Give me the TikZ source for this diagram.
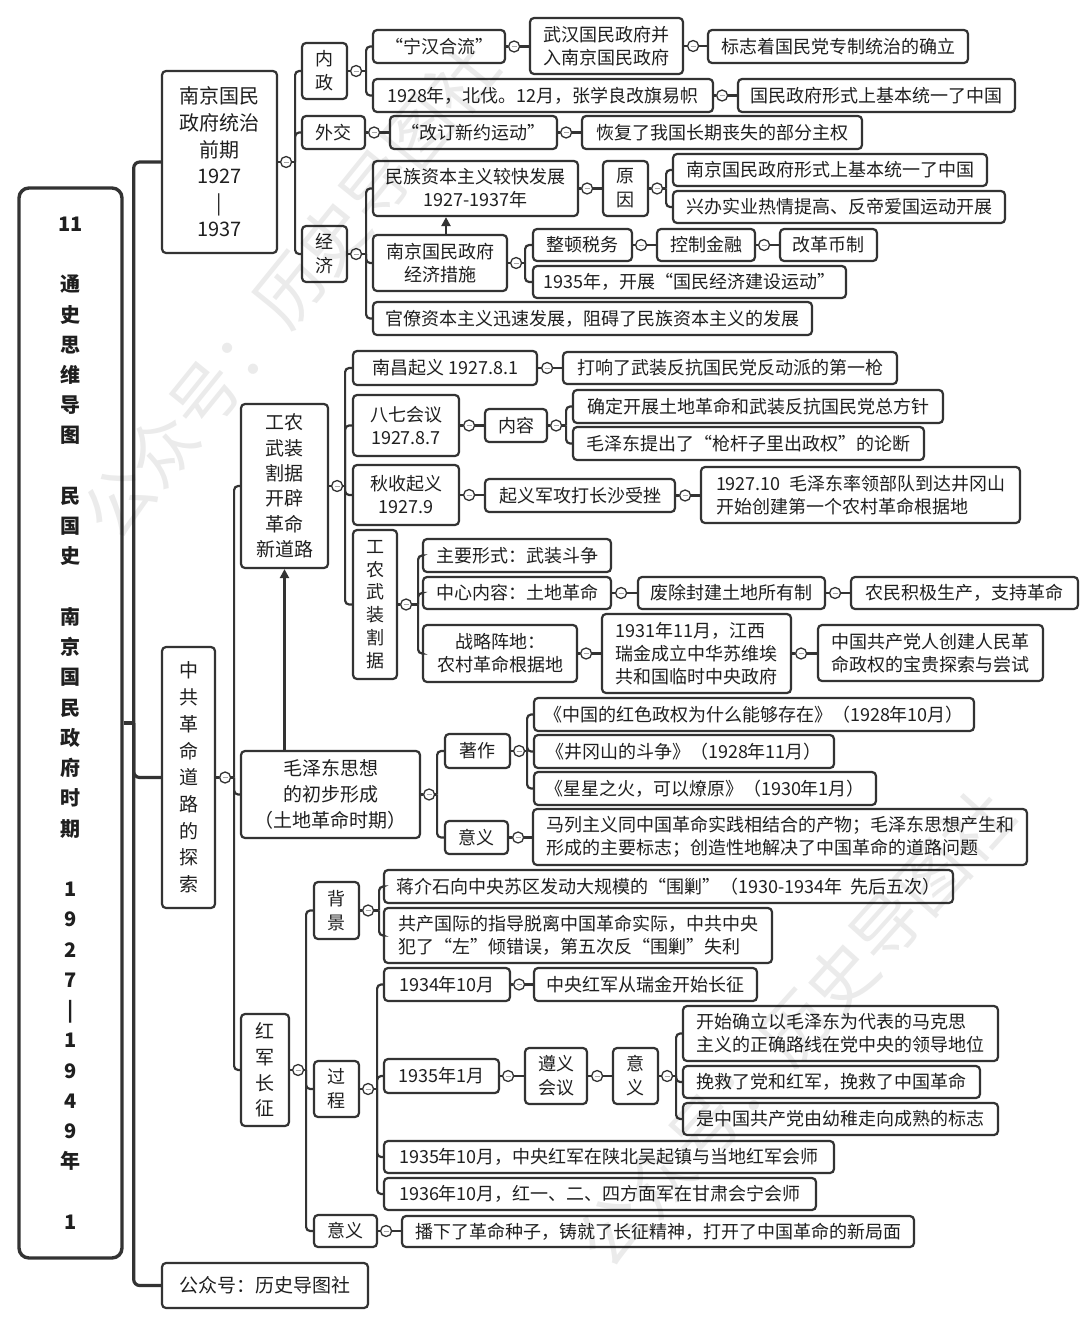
\documentclass[tikz,border=0pt]{standalone}
\usepackage{fontspec}
\setmainfont{Noto Sans CJK SC}
\usetikzlibrary{arrows.meta}
\definecolor{ink}{HTML}{333333}
\newcommand\fs[2]{\fontsize{#1}{#2}\selectfont}
\tikzset{
 box/.style={draw=ink, line width=2.2pt, rounded corners=4pt, fill=white, inner xsep=2pt, inner ysep=0pt, align=center, font=\fs{18}{23}, text=black!88},
 conn/.style={draw=ink, line width=2.2pt},
 rc/.style={conn, rounded corners=4pt},
 spine/.style={draw=ink, line width=3.2pt},
 dot/.style={circle, draw=ink, fill=white, line width=1.3pt, minimum size=11pt, inner sep=0pt,
   path picture={\draw[gray!70, line width=1pt] ([xshift=-2.6pt]path picture bounding box.center) -- ([xshift=2.6pt]path picture bounding box.center);}},
 arr/.style={conn, -{Triangle[length=9pt,width=9pt]}},
 wmark/.style={font=\fs{68}{70}, text=black, text opacity=0.08, inner sep=0pt},
}
% box: name, x1, y1, x2, y2, text
\newcommand\bx[7][]{\node[box,#1,minimum width={#5-#3},minimum height={#6-#4}] (#2) at ({(#3+#5)/2},{(#4+#6)/2}) {#7};}
% hub with trunk: parent, dot name, gap, trunk offset
\newcommand\hub[4]{\node[dot] (#2) at ([xshift=#3pt]#1.east) {};
  \coordinate (#2t) at ([xshift=#4pt]#2.center);
  \draw[conn] (#1.east) -- (#2.west); \draw[conn] (#2.east) -- (#2t);}
\newcommand\lnk[2]{\draw[rc] (#1t) |- (#2.west);}
% dot leading to one child: parent, dot name, gap, child
\newcommand\dotto[4]{\node[dot] (#2) at ([xshift=#3pt]#1.east) {};
  \draw[conn] (#1.east) -- (#2.west); \draw[conn] (#2.east) -- (#2.east -| #4.west);}
\begin{document}
\begin{tikzpicture}[x=1pt,y=-1pt]
\useasboundingbox (0,0) rectangle (1080,1328);
\fill[white] (0,0) rectangle (1080,1328);

% ---------- root ----------
\node[draw=ink, line width=3.4pt, rounded corners=10pt, minimum width=103, minimum height=1070, fill=white] (root) at (70.5,723) {};
\node[font=\fs{20}{30.24}\bfseries, align=center, text=black!88] (roottext) at (70.5,723) {11\\~\\通\\史\\思\\维\\导\\图\\~\\民\\国\\史\\~\\南\\京\\国\\民\\政\\府\\时\\期\\~\\1\\9\\2\\7\\|\\1\\9\\4\\9\\年\\~\\1};

% ---------- level 1 ----------
\bx[font=\fs{20}{26.6}]{b1}{162}{71}{277}{253}{南京国民\\政府统治\\前期\\1927\\|\\1937}
\bx[font=\fs{19}{26.7}]{b2}{162}{647}{215}{908}{中\\共\\革\\命\\道\\路\\的\\探\\索}
\bx[font=\fs{19}{24}]{b3}{162}{1263}{368}{1308}{公众号：历史导图社}

% ---------- part 1 ----------
\bx[font=\fs{18}{24}]{neizheng}{302}{43}{347}{99}{内\\政}
\bx{waijiao}{302}{116}{365}{149}{外交}
\bx[font=\fs{18}{24}]{jingji}{302}{226}{347}{282}{经\\济}

\bx{ninghan}{373}{30}{505}{63}{“宁汉合流”}
\bx{wuhan}{530}{18}{683}{74}{武汉国民政府并\\入南京国民政府}
\bx{biaozhi}{708}{30}{968}{63}{标志着国民党专制统治的确立}
\bx{y1928}{373}{79}{713}{112}{1928年，北伐。12月，张学良改旗易帜}
\bx{tongyi}{738}{79}{1015}{112}{国民政府形式上基本统一了中国}

\bx{gaiding}{390}{116}{557}{149}{“改订新约运动”}
\bx{huifu}{582}{116}{862}{149}{恢复了我国长期丧失的部分主权}

\bx{minzu}{373}{161}{578}{216}{民族资本主义较快发展\\1927-1937年}
\bx[font=\fs{18}{24}]{yuanyin}{603}{161}{648}{216}{原\\因}
\bx{r1}{673}{154}{987}{186}{南京国民政府形式上基本统一了中国}
\bx{r2}{673}{191}{1005}{223}{兴办实业热情提高、反帝爱国运动开展}
\bx{econ}{373}{235}{507}{291}{南京国民政府\\经济措施}
\bx{zhengdun}{533}{229}{632}{261}{整顿税务}
\bx{kongzhi}{657}{229}{755}{261}{控制金融}
\bx{gaige}{780}{229}{877}{261}{改革币制}
\bx{y1935}{533}{266}{846}{298}{1935年，开展“国民经济建设运动”}
\bx{guanliao}{373}{302}{812}{335}{官僚资本主义迅速发展，阻碍了民族资本主义的发展}

% ---------- part 2 ----------
\bx[font=\fs{19}{25.4}]{gongnong}{241}{404}{328}{568}{工农\\武装\\割据\\开辟\\革命\\新道路}
\bx[font=\fs{19}{26}]{mao}{241}{751}{420}{838}{毛泽东思想\\的初步形成\\（土地革命时期）}
\bx[font=\fs{19}{25.6}]{hongjun}{241}{1014}{289}{1126}{红\\军\\长\\征}

\bx{nanchang}{353}{351}{537}{385}{南昌起义 1927.8.1}
\bx{dahuang}{563}{352}{897}{384}{打响了武装反抗国民党反动派的第一枪}
\bx{baqi}{353}{395}{459}{456}{八七会议\\1927.8.7}
\bx{neirong}{485}{409}{547}{442}{内容}
\bx{queding}{573}{390}{943}{423}{确定开展土地革命和武装反抗国民党总方针}
\bx{qiangganzi}{573}{427}{924}{460}{毛泽东提出了“枪杆子里出政权”的论断}
\bx{qiushou}{353}{465}{459}{525}{秋收起义\\1927.9}
\bx{qiyijun}{485}{479}{675}{512}{起义军攻打长沙受挫}
\bx[align=left]{jinggang}{701}{467}{1020}{523}{1927.10\ \ 毛泽东率领部队到达井冈山\\开始创建第一个农村革命根据地}
\bx[font=\fs{18}{22.8}]{geju}{353}{530}{397}{679}{工\\农\\武\\装\\割\\据}
\bx{zhuyao}{423}{539}{611}{572}{主要形式：武装斗争}
\bx{zhongxin}{423}{577}{611}{609}{中心内容：土地革命}
\bx{feichu}{638}{577}{825}{609}{废除封建土地所有制}
\bx{nongmin}{851}{577}{1078}{609}{农民积极生产，支持革命}
\bx{zhanlue}{423}{625}{577}{682}{战略阵地：\\农村革命根据地}
\bx[align=left]{ruijin}{602}{614}{791}{693}{1931年11月，江西\\瑞金成立中华苏维埃\\共和国临时中央政府}
\bx{chuangjian}{818}{625}{1043}{681}{中国共产党人创建人民革\\命政权的宝贵探索与尝试}

\bx{zhuzuo}{445}{734}{510}{768}{著作}
\bx{w1}{534}{698}{974}{731}{《中国的红色政权为什么能够存在》（1928年10月）}
\bx{w2}{534}{735}{834}{768}{《井冈山的斗争》（1928年11月）}
\bx{w3}{534}{772}{876}{805}{《星星之火，可以燎原》（1930年1月）}
\bx{yiyi1}{445}{821}{508}{854}{意义}
\bx[align=left]{malie}{533}{809}{1027}{865}{马列主义同中国革命实践相结合的产物；毛泽东思想产生和\\形成的主要标志；创造性地解决了中国革命的道路问题}

\bx[font=\fs{18}{24}]{beijing}{314}{882}{359}{939}{背\\景}
\bx{jiang}{384}{870}{953}{903}{蒋介石向中央苏区发动大规模的“围剿”（1930-1934年\ \ 先后五次）}
\bx[align=left]{gongchan}{384}{908}{772}{963}{共产国际的指导脱离中国革命实际，中共中央\\犯了“左”倾错误，第五次反“围剿”失利}
\bx[font=\fs{18}{24}]{guocheng}{314}{1061}{359}{1117}{过\\程}
\bx{y34}{384}{968}{510}{1001}{1934年10月}
\bx{ruijin2}{534}{968}{757}{1001}{中央红军从瑞金开始长征}
\bx{y35}{384}{1059}{499}{1093}{1935年1月}
\bx[font=\fs{18}{24}]{zunyi}{525}{1048}{587}{1104}{遵义\\会议}
\bx[font=\fs{18}{24}]{yiyi2}{613}{1048}{658}{1104}{意\\义}
\bx[align=left]{s1}{683}{1006}{998}{1061}{开始确立以毛泽东为代表的马克思\\主义的正确路线在党中央的领导地位}
\bx{s2}{683}{1066}{980}{1098}{挽救了党和红军，挽救了中国革命}
\bx{s3}{683}{1103}{998}{1135}{是中国共产党由幼稚走向成熟的标志}
\bx{y35b}{384}{1141}{834}{1173}{1935年10月，中央红军在陕北吴起镇与当地红军会师}
\bx{y36}{384}{1178}{816}{1210}{1936年10月，红一、二、四方面军在甘肃会宁会师}
\bx{yiyi3}{314}{1215}{377}{1247}{意义}
\bx{boxia}{402}{1216}{914}{1247}{播下了革命种子，铸就了长征精神，打开了中国革命的新局面}

% ---------- connectors ----------
\coordinate (t0) at ([xshift=10pt]root.east);
\draw[spine] (root.east) -- (t0);
\draw[spine, rounded corners=6pt] (t0) |- (b1.west);
\draw[spine, rounded corners=6pt] (t0) |- (b2.west);
\draw[spine, rounded corners=6pt] (t0) |- (b3.west);

\hub{b1}{c1}{8}{9}
\lnk{c1}{neizheng}\lnk{c1}{waijiao}\lnk{c1}{jingji}
\hub{neizheng}{cnz}{8}{10}
\lnk{cnz}{ninghan}\lnk{cnz}{y1928}
\dotto{ninghan}{cnh}{8}{wuhan}
\dotto{wuhan}{cwh}{9}{biaozhi}
\dotto{y1928}{c28}{8}{tongyi}
\dotto{waijiao}{cwj}{8}{gaiding}
\dotto{gaiding}{cgd}{8}{huifu}
\hub{jingji}{cjj}{8}{10}
\lnk{cjj}{minzu}\lnk{cjj}{econ}\lnk{cjj}{guanliao}
\dotto{minzu}{cmz}{8}{yuanyin}
\hub{yuanyin}{cyy}{8}{9}
\lnk{cyy}{r1}\lnk{cyy}{r2}
\hub{econ}{cec}{8}{9}
\lnk{cec}{zhengdun}\lnk{cec}{y1935}
\dotto{zhengdun}{czd}{8}{kongzhi}
\dotto{kongzhi}{ckz}{8}{gaige}
\coordinate (ea) at ([xshift=6pt]econ.north);
\draw[arr] (ea) -- (ea |- minzu.south);

\hub{b2}{c2}{9}{9}
\lnk{c2}{gongnong}\lnk{c2}{mao}\lnk{c2}{hongjun}
\hub{gongnong}{cgn}{8}{8}
\lnk{cgn}{nanchang}\lnk{cgn}{baqi}\lnk{cgn}{qiushou}\lnk{cgn}{geju}
\dotto{nanchang}{cnc}{9}{dahuang}
\dotto{baqi}{cbq}{9}{neirong}
\hub{neirong}{cnr}{8}{10}
\lnk{cnr}{queding}\lnk{cnr}{qiangganzi}
\dotto{qiushou}{cqs}{9}{qiyijun}
\dotto{qiyijun}{cqy}{9}{jinggang}
\hub{geju}{cgj}{8}{12}
\lnk{cgj}{zhuyao}\lnk{cgj}{zhongxin}\lnk{cgj}{zhanlue}
\dotto{zhongxin}{czx}{9}{feichu}
\dotto{feichu}{cfc}{9}{nongmin}
\dotto{zhanlue}{czl}{8}{ruijin}
\dotto{ruijin}{crj}{9}{chuangjian}
\hub{mao}{cmao}{8}{8}
\lnk{cmao}{zhuzuo}\lnk{cmao}{yiyi1}
\hub{zhuzuo}{czz}{8}{8}
\lnk{czz}{w1}\lnk{czz}{w2}\lnk{czz}{w3}
\dotto{yiyi1}{cy1}{9}{malie}
\draw[arr] (mao.north -| gongnong.south) -- (gongnong.south);

\hub{hongjun}{chj}{8}{8}
\lnk{chj}{beijing}\lnk{chj}{guocheng}\lnk{chj}{yiyi3}
\hub{beijing}{cbj}{8}{11}
\lnk{cbj}{jiang}\lnk{cbj}{gongchan}
\hub{guocheng}{cgc}{8}{9}
\lnk{cgc}{y34}\lnk{cgc}{y35}\lnk{cgc}{y35b}\lnk{cgc}{y36}
\dotto{y34}{c34}{8}{ruijin2}
\dotto{y35}{c35}{8}{zunyi}
\dotto{zunyi}{czy}{9}{yiyi2}
\hub{yiyi2}{cy2}{8}{9}
\lnk{cy2}{s1}\lnk{cy2}{s2}\lnk{cy2}{s3}
\dotto{yiyi3}{cy3}{8}{boxia}

% ---------- watermarks ----------
\node[wmark, rotate=51] (wm1) at (290,290) {公众号：历史导图社};
\node[wmark, rotate=48] (wm2) at (795,1028) {公众号：历史导图社};
\end{tikzpicture}
\end{document}
